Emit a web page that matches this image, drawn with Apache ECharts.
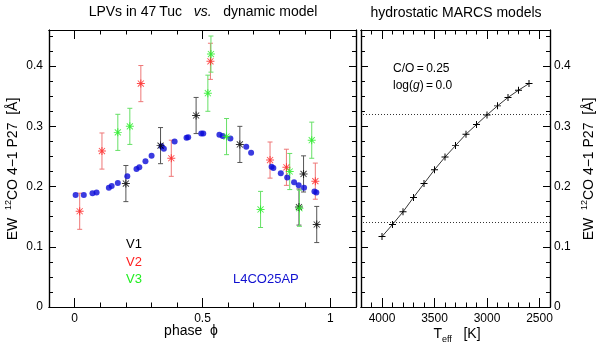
<!DOCTYPE html>
<html><head><meta charset="utf-8">
<script src="https://cdn.jsdelivr.net/npm/echarts@6/dist/echarts.min.js"></script>
<style>html,body{margin:0;padding:0;background:#fff}#c{width:600px;height:346px}</style>
</head><body><div id="c"></div>
<script>
// ---- Left panel: dynamic model (blue dots)
const modelPhase = [0.004,0.036,0.070,0.086,0.134,0.145,0.169,0.206,0.242,0.253,0.277,0.301,0.340,0.349,0.391,0.4375,0.444,0.495,0.503,0.566,0.579,0.609,0.671,0.690,0.770,0.777,0.806,0.831,0.858,0.876,0.897,0.9375,0.945];
const modelEW    = [0.186,0.186,0.189,0.190,0.198,0.201,0.206,0.217,0.229,0.232,0.242,0.251,0.267,0.263,0.275,0.281,0.282,0.288,0.288,0.286,0.284,0.280,0.266,0.256,0.233,0.231,0.222,0.215,0.207,0.202,0.198,0.192,0.190];
// ---- Observed LPVs
const v1Phase = [0.2005,0.336,0.475,0.646,0.877,0.895,0.9465];
const v1EW    = [0.205,0.268,0.318,0.270,0.166,0.221,0.137];
const v1Err   = [0.03,0.03,0.03,0.03,0.03,0.03,0.03];
const v2Phase = [0.020,0.107,0.259,0.378,0.531,0.764,0.828,0.941];
const v2EW    = [0.159,0.259,0.371,0.247,0.408,0.244,0.232,0.209];
const v2Err   = [0.03,0.03,0.03,0.03,0.03,0.03,0.03,0.03];
const v3Phase = [0.169,0.216,0.521,0.533,0.594,0.727,0.841,0.879,0.927];
const v3EW    = [0.290,0.300,0.355,0.420,0.283,0.162,0.225,0.164,0.277];
const v3Err   = [0.03,0.03,0.03,0.03,0.03,0.03,0.03,0.03,0.03];
// ---- Right panel: hydrostatic MARCS models
const teff    = [4000,3900,3800,3700,3600,3500,3400,3300,3200,3100,3000,2900,2800,2700,2600];
const marcsEW = [0.117,0.137,0.158,0.182,0.205,0.228,0.249,0.268,0.287,0.303,0.319,0.334,0.348,0.360,0.371];
const refLines = [0.137,0.319];
// ---- Tick labels
const phaseLabels = [0,0.5,1];
const teffLabels = [2500,3000,3500,4000];
const ewLabels = [0,0.1,0.2,0.3,0.4];

function steps(a,b,s){const r=[];for(let v=a;v<=b+1e-9;v+=s)r.push(+v.toFixed(4));return r;}
const phaseMinor = steps(-0.1,1.1,0.1);
const teffMinor = steps(2400,4200,100);
const ewMinor = steps(0,0.46,0.025);

const FONT = 'Liberation Sans, Arial, sans-serif';
const black = '#000';
const STAR = 'path://M4.4 0H5.6V10H4.4Z M0 4.4H10V5.6H0Z M0.8 1.6L1.6 0.8L9.2 8.4L8.4 9.2Z M8.4 0.8L9.2 1.6L1.6 9.2L0.8 8.4Z';
const PLUS = 'path://M4.3 0H5.7V10H4.3Z M0 4.3H10V5.7H0Z';

function xAx(grid,pos,min,max,ticks,len,labels,inverse){
  return {type:'value',gridIndex:grid,position:pos,min:min,max:max,inverse:!!inverse,
    axisLine:{show:true,onZero:false,lineStyle:{color:black,width:1.2}},
    axisTick:{show:true,inside:true,length:len,customValues:ticks,lineStyle:{color:black,width:1}},
    axisLabel:labels?{show:true,customValues:labels,color:black,fontFamily:FONT,fontSize:12,margin:6,formatter:v=>String(v)}:{show:false},
    splitLine:{show:false}};
}
function yAx(grid,pos,ticks,len,labels,margin){
  return {type:'value',gridIndex:grid,position:pos,min:0,max:0.46,
    axisLine:{show:true,onZero:false,lineStyle:{color:black,width:1.2}},
    axisTick:{show:true,inside:true,length:len,customValues:ticks,lineStyle:{color:black,width:1}},
    axisLabel:labels?{show:true,customValues:labels,color:black,fontFamily:FONT,fontSize:12,margin:margin,formatter:v=>String(v)}:{show:false},
    splitLine:{show:false}};
}

function errData(ph,ew,er){return ph.map((p,i)=>[p,ew[i]-er[i],ew[i]+er[i]]);}
function errSeries(ph,ew,er,color){
  return {type:'custom',xAxisIndex:0,yAxisIndex:0,data:errData(ph,ew,er),z:2,
    renderItem:function(params,api){
      const x=api.coord([api.value(0),api.value(1)]);
      const y=api.coord([api.value(0),api.value(2)]);
      const w=2.5, st={stroke:color,lineWidth:1};
      return {type:'group',children:[
        {type:'line',shape:{x1:x[0],y1:x[1],x2:y[0],y2:y[1]},style:st},
        {type:'line',shape:{x1:x[0]-w,y1:x[1],x2:x[0]+w,y2:x[1]},style:st},
        {type:'line',shape:{x1:y[0]-w,y1:y[1],x2:y[0]+w,y2:y[1]},style:st}
      ]};
    }};
}
function starSeries(ph,ew,color){
  return {type:'scatter',xAxisIndex:0,yAxisIndex:0,data:ph.map((p,i)=>[p,ew[i]]),symbol:STAR,symbolSize:8,
    itemStyle:{color:color},z:4,silent:true};
}

const L = {left:49,top:30,width:307,height:277};
const R = {left:361,top:30,width:189,height:277};
const chart = echarts.init(document.getElementById('c'),null,{renderer:'canvas'});
chart.setOption({
  animation:false,
  backgroundColor:'#fff',
  grid:[L,Object.assign({},L),R,Object.assign({},R)],
  xAxis:[
    xAx(0,'bottom',-0.1,1.1,phaseMinor,4.5,phaseLabels),
    xAx(0,'top',-0.1,1.1,phaseMinor,4.5,null),
    xAx(1,'bottom',-0.1,1.1,phaseLabels,9,null),
    xAx(1,'top',-0.1,1.1,phaseLabels,9,null),
    xAx(2,'bottom',2400,4200,teffMinor,4.5,teffLabels,true),
    xAx(2,'top',2400,4200,teffMinor,4.5,null,true),
    xAx(3,'bottom',2400,4200,teffLabels,9,null,true),
    xAx(3,'top',2400,4200,teffLabels,9,null,true)
  ],
  yAxis:[
    yAx(0,'left',ewMinor,4,ewLabels,6),
    yAx(0,'right',ewMinor,4,null),
    yAx(1,'left',ewLabels,7,null),
    yAx(1,'right',ewLabels,7,null),
    yAx(2,'left',ewMinor,4,null),
    yAx(2,'right',ewMinor,4,ewLabels,4),
    yAx(3,'left',ewLabels,7,null),
    yAx(3,'right',ewLabels,7,null)
  ],
  series:[
    errSeries(v1Phase,v1EW,v1Err,'#555555'),
    errSeries(v2Phase,v2EW,v2Err,'#ee7777'),
    errSeries(v3Phase,v3EW,v3Err,'#66e066'),
    {type:'scatter',xAxisIndex:0,yAxisIndex:0,data:modelPhase.map((p,i)=>[p,modelEW[i]]),symbol:'circle',symbolSize:6,
      itemStyle:{color:'#0a0ad8'},z:3,silent:true},
    starSeries(v1Phase,v1EW,'#000000'),
    starSeries(v2Phase,v2EW,'#ff2020'),
    starSeries(v3Phase,v3EW,'#22ee22'),
    {type:'line',xAxisIndex:4,yAxisIndex:4,data:teff.map((t,i)=>[t,marcsEW[i]]),symbol:PLUS,symbolSize:7,showSymbol:true,
      lineStyle:{color:'#000',width:0.8},itemStyle:{color:'#000'},z:3,silent:true,
      markLine:{silent:true,symbol:['none','none'],label:{show:false},
        lineStyle:{color:'#000',type:[1,2],width:0.8},
        data:refLines.map(v=>({yAxis:v}))}}
  ],
  graphic:[
    {type:'text',x:203,y:12,style:{text:'LPVs in 47\u2009Tuc   {i|vs.}   dynamic model',fill:'#000',font:'14px '+FONT,align:'center',verticalAlign:'middle',
      rich:{i:{fontStyle:'italic',fontSize:14,fontFamily:FONT}}}},
    {type:'text',x:456,y:13,style:{text:'hydrostatic MARCS models',fill:'#000',font:'14px '+FONT,align:'center',verticalAlign:'middle'}},
    {type:'text',x:393,y:69,style:{text:'C/O\u2009=\u20090.25',fill:'#000',font:'12px '+FONT,align:'left',verticalAlign:'middle'}},
    {type:'text',x:393,y:86,style:{text:'log({i|g})\u2009=\u20090.0',fill:'#000',font:'12px '+FONT,align:'left',verticalAlign:'middle',
      rich:{i:{fontStyle:'italic',fontSize:12,fontFamily:FONT}}}},
    {type:'text',x:126,y:244,style:{text:'V1',fill:'#000',font:'13px '+FONT,align:'left',verticalAlign:'middle'}},
    {type:'text',x:126,y:262,style:{text:'V2',fill:'#ff2020',font:'13px '+FONT,align:'left',verticalAlign:'middle'}},
    {type:'text',x:126,y:279,style:{text:'V3',fill:'#22ee22',font:'13px '+FONT,align:'left',verticalAlign:'middle'}},
    {type:'text',x:233,y:279,style:{text:'L4CO25AP',fill:'#1010d0',font:'13px '+FONT,align:'left',verticalAlign:'middle'}},
    {type:'text',x:191,y:331,style:{text:'phase  \u03d5',fill:'#000',font:'14px '+FONT,align:'center',verticalAlign:'middle'}},
    {type:'text',x:457,y:334,style:{text:'T{s|eff}   [K]',fill:'#000',font:'14px '+FONT,align:'center',verticalAlign:'middle',
      rich:{s:{fontSize:9,fontFamily:FONT,verticalAlign:'bottom',lineHeight:20}}}},
    {type:'text',x:13,y:169,rotation:Math.PI/2,style:{text:'EW  {s|12}CO 4\u22121 P27  [Å]',fill:'#000',font:'14px '+FONT,align:'center',verticalAlign:'middle',
      rich:{s:{fontSize:9,fontFamily:FONT,verticalAlign:'top',lineHeight:18}}}},
    {type:'text',x:589,y:169,rotation:Math.PI/2,style:{text:'EW  {s|12}CO 4\u22121 P27  [Å]',fill:'#000',font:'14px '+FONT,align:'center',verticalAlign:'middle',
      rich:{s:{fontSize:9,fontFamily:FONT,verticalAlign:'top',lineHeight:18}}}}
  ]
});
</script></body></html>
